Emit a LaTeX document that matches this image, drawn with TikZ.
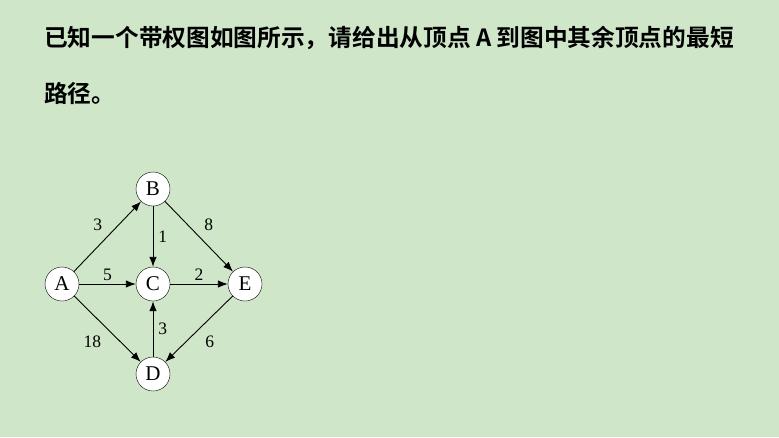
\documentclass[tikz,border=0pt]{standalone}
\usepackage{fontspec}
\setmainfont{Liberation Serif}
\newfontfamily\cjkbold{Noto Sans CJK SC Bold}
\usepackage{tikz}
\usetikzlibrary{arrows.meta}
\definecolor{page_green}{RGB}{207,230,201}
\tikzstyle{graph_vertex} = [circle, draw, fill = white, minimum size = 34, inner sep = 0, font = \fontsize{21}{23}\selectfont]
\tikzstyle{graph_edge} = [-{Latex[length = 10, width = 7.5]}, line width = 0.9]
\tikzstyle{edge_weight} = [font = \fontsize{17.5}{19}\selectfont, inner sep = 1]
\tikzstyle{task_text} = [anchor = west, inner sep = 0, font = \cjkbold\fontsize{23.7}{26}\selectfont]

\begin{document}
\begin{tikzpicture}[x = 1pt, y = -1pt]
        \fill [page_green] (0, 0) rectangle (779, 437);
        \useasboundingbox (0, 0) rectangle (779, 437);
        % question
        \node [style = {task_text}] (line_1) at (44, 38) {已知一个带权图如图所示，请给出从顶点 A 到图中其余顶点的最短};
        \node [style = {task_text}] (line_2) at (44, 93) {路径。};
        % vertices
        \node [style = {graph_vertex}] (A) at (62, 284) {A};
        \node [style = {graph_vertex}] (B) at (153, 189) {B};
        \node [style = {graph_vertex}] (C) at (153, 284) {C};
        \node [style = {graph_vertex}] (D) at (153, 374) {D};
        \node [style = {graph_vertex}] (E) at (245, 284) {E};
        % weighted edges
        \draw [style = {graph_edge}] (A) -- node [style = {edge_weight}, above left = 4] {3} (B);
        \draw [style = {graph_edge}] (A) -- node [style = {edge_weight}, above = 2] {5} (C);
        \draw [style = {graph_edge}] (A) -- node [style = {edge_weight}, below left = 5] {18} (D);
        \draw [style = {graph_edge}] (B) -- node [style = {edge_weight}, right = 4] {1} (C);
        \draw [style = {graph_edge}] (B) -- node [style = {edge_weight}, above right = 4] {8} (E);
        \draw [style = {graph_edge}] (C) -- node [style = {edge_weight}, above = 2] {2} (E);
        \draw [style = {graph_edge}] (D) -- node [style = {edge_weight}, right = 4] {3} (C);
        \draw [style = {graph_edge}] (E) -- node [style = {edge_weight}, below right = 5] {6} (D);
    \end{tikzpicture}
\end{document}
